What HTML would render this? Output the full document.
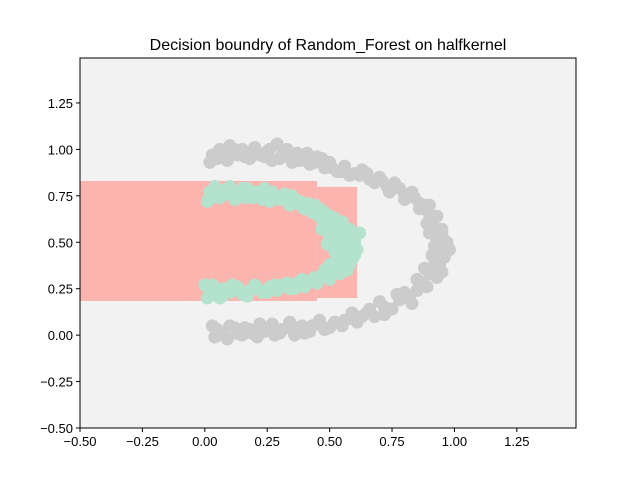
<!DOCTYPE html>
<html><head><meta charset="utf-8"><style>
body{margin:0;background:#fff;}
svg text{font-family:"Liberation Sans","DejaVu Sans",sans-serif;}
</style></head><body>
<svg id="chart" width="640" height="480" xmlns="http://www.w3.org/2000/svg">
<rect width="640" height="480" fill="#fff"/>
<text x="328" y="50" text-anchor="middle" font-size="16">Decision boundry of Random_Forest on halfkernel</text>
<g id="plot"></g>
<g id="axes"></g>
</svg>
<script>
const xTicks=[-0.5,-0.25,0,0.25,0.5,0.75,1.0,1.25];
const yTicks=[-0.5,-0.25,0,0.25,0.5,0.75,1.0,1.25];
const xTickLabels=["−0.50","−0.25","0.00","0.25","0.50","0.75","1.00","1.25"];
const yTickLabels=["−0.50","−0.25","0.00","0.25","0.50","0.75","1.00","1.25"];
// decision regions: [x0,x1,y0,y1]
const regionsX0=[-0.5,0.449];
const regionsX1=[0.449,0.61];
const regionsY0=[0.184,0.2];
const regionsY1=[0.83,0.798];
const grayX=[0.02,0.03,0.06,0.09,0.1,0.13,0.15,0.18,0.2,0.22,0.25,0.27,0.29,0.31,0.33,0.35,0.37,0.4,0.42,0.45,0.48,0.5,0.53,0.56,0.6,0.63,0.66,0.7,0.73,0.76,0.8,0.83,0.86,0.88,0.9,0.93,0.92,0.95,0.93,0.97,0.94,0.96,0.92,0.9,0.93,0.87,0.85,0.82,0.78,0.75,0.72,0.68,0.65,0.61,0.58,0.55,0.52,0.48,0.45,0.42,0.39,0.36,0.33,0.3,0.27,0.24,0.21,0.18,0.15,0.12,0.09,0.06,0.04,0.03,
0.05,0.08,0.12,0.16,0.19,0.24,0.26,0.3,0.34,0.38,0.41,0.44,0.47,0.51,0.55,0.58,0.62,0.65,0.68,0.71,0.74,0.78,0.8,0.84,0.86,0.9,0.89,0.9,0.92,0.95,0.98,0.91,0.94,0.88,0.95,0.85,0.89,0.8,0.83,0.77,0.7,0.72,0.66,0.63,0.59,0.56,0.5,0.46,0.43,0.4,0.37,0.34,0.31,0.28,0.25,0.22,0.19,0.16,0.13,0.1,0.07,0.05];
const grayY=[0.93,0.97,1.0,0.94,1.02,0.97,1.0,0.95,1.01,0.97,0.99,0.94,1.03,0.97,1.0,0.93,0.98,0.95,0.92,0.96,0.9,0.93,0.88,0.91,0.87,0.89,0.84,0.85,0.8,0.82,0.76,0.77,0.71,0.7,0.65,0.64,0.58,0.57,0.52,0.5,0.46,0.42,0.38,0.33,0.31,0.28,0.24,0.2,0.19,0.14,0.15,0.1,0.12,0.07,0.09,0.05,0.07,0.03,0.06,0.02,0.05,0.0,0.04,0.01,0.06,0.02,-0.01,0.03,0.0,0.04,-0.02,0.02,-0.01,0.05,
0.95,0.98,1.0,0.96,0.98,0.96,1.0,0.95,0.96,0.94,0.98,0.93,0.95,0.9,0.88,0.86,0.86,0.87,0.82,0.83,0.77,0.79,0.73,0.74,0.68,0.7,0.6,0.55,0.48,0.54,0.46,0.43,0.38,0.36,0.34,0.3,0.26,0.23,0.17,0.22,0.18,0.11,0.14,0.1,0.12,0.08,0.04,0.08,0.05,0.01,0.04,0.07,0.03,0.0,0.04,0.06,0.01,0.04,0.01,0.05,0.0,0.03];
const greenX=[0.01,0.02,0.04,0.06,0.08,0.1,0.12,0.14,0.17,0.19,0.22,0.24,0.26,0.28,0.3,0.32,0.34,0.36,0.39,0.41,0.43,0.46,0.47,0.5,0.52,0.55,0.54,0.58,0.57,0.6,0.58,0.61,0.56,0.59,0.55,0.57,0.52,0.5,0.47,0.45,0.42,0.4,0.37,0.34,0.31,0.29,0.26,0.23,0.2,0.18,0.15,0.13,0.1,0.07,0.05,0.02,0.0,0.01,
0.03,0.05,0.09,0.11,0.15,0.16,0.2,0.23,0.27,0.31,0.35,0.38,0.4,0.44,0.45,0.48,0.49,0.52,0.51,0.53,0.5,0.54,0.47,0.49,0.52,0.55,0.6,0.62,0.53,0.58,0.5,0.6,0.48,0.54,0.44,0.39,0.36,0.33,0.28,0.25,0.21,0.17,0.14,0.11,0.08,0.04,0.03,0.06];
const greenY=[0.72,0.77,0.8,0.74,0.78,0.8,0.73,0.77,0.79,0.74,0.77,0.79,0.72,0.75,0.73,0.76,0.7,0.73,0.69,0.71,0.66,0.68,0.62,0.64,0.6,0.61,0.56,0.57,0.52,0.53,0.48,0.46,0.44,0.41,0.38,0.35,0.34,0.3,0.32,0.28,0.29,0.26,0.28,0.25,0.27,0.24,0.26,0.23,0.27,0.24,0.22,0.26,0.23,0.21,0.25,0.22,0.27,0.2,
0.74,0.78,0.76,0.75,0.79,0.74,0.77,0.73,0.77,0.74,0.75,0.72,0.68,0.7,0.65,0.66,0.6,0.63,0.56,0.58,0.52,0.5,0.57,0.49,0.45,0.47,0.5,0.55,0.41,0.38,0.38,0.43,0.35,0.33,0.31,0.3,0.25,0.28,0.27,0.23,0.25,0.21,0.24,0.27,0.25,0.22,0.27,0.2];

const L=80,R=576,T=58,B=428,xmin=-0.5,xmax=1.487,ymin=-0.5,ymax=1.492;
const sx=v=>L+(v-xmin)/(xmax-xmin)*(R-L);
const sy=v=>B-(v-ymin)/(ymax-ymin)*(B-T);
const NS="http://www.w3.org/2000/svg";
const plot=document.getElementById('plot'),axes=document.getElementById('axes');
function mk(tag,attrs,parent){const e=document.createElementNS(NS,tag);for(const k in attrs)e.setAttribute(k,attrs[k]);parent.appendChild(e);return e;}
const bg=mk('rect',{x:L,y:T,width:R-L,height:B-T,fill:'#f2f2f2'},plot);


for(let i=0;i<regionsX0.length;i++){
 const r=mk('rect',{x:sx(regionsX0[i]),y:sy(regionsY1[i]),width:sx(regionsX1[i])-sx(regionsX0[i]),height:sy(regionsY0[i])-sy(regionsY1[i]),fill:'#fbb4ae'},plot);
 
 
}
for(let i=0;i<grayX.length;i++){
 const c=mk('circle',{cx:sx(grayX[i]),cy:sy(grayY[i]),r:6.5,fill:'#cccccc'},plot);
 
 
}
for(let i=0;i<greenX.length;i++){
 const c=mk('circle',{cx:sx(greenX[i]),cy:sy(greenY[i]),r:6.5,fill:'#b3e2cd'},plot);
 
 
}
const frame=mk('rect',{x:L,y:T,width:R-L,height:B-T,fill:'none',stroke:'#000','stroke-width':1},axes);


xTicks.forEach((v,i)=>{
 const x=sx(v);
 mk('line',{x1:x,x2:x,y1:B,y2:B+4,stroke:'#000'},axes);
 const t=mk('text',{x:x,y:B+18,'text-anchor':'middle','font-size':13},axes);
 t.textContent=xTickLabels[i];
 
 
});
yTicks.forEach((v,i)=>{
 const y=sy(v);
 mk('line',{x1:L-4,x2:L,y1:y,y2:y,stroke:'#000'},axes);
 const t=mk('text',{x:L-7,y:y+5,'text-anchor':'end','font-size':13},axes);
 t.textContent=yTickLabels[i];
 
 
});
</script>
</body></html>
